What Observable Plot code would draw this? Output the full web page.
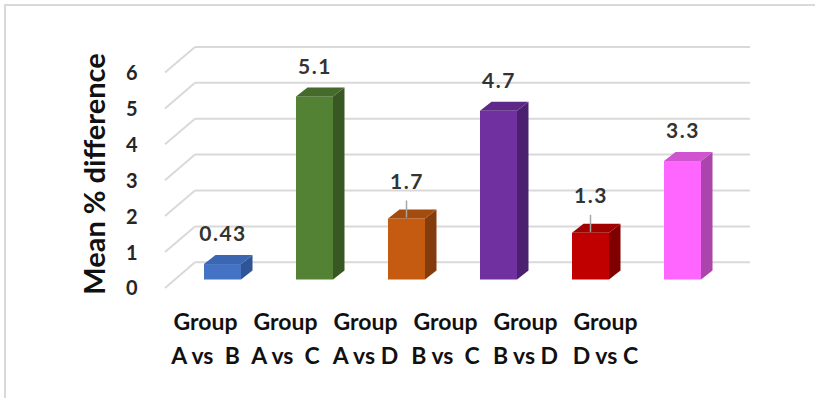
<!DOCTYPE html>
<html>
<head>
<meta charset="utf-8">
<script src="https://cdn.jsdelivr.net/npm/d3@7"></script>
<script src="https://cdn.jsdelivr.net/npm/@observablehq/plot@0.6"></script>
<style>
  html, body { margin: 0; padding: 0; background: #fff; }
  #chart { position: relative; width: 815px; height: 398px; overflow: hidden; background: #fff; }
  #chart .border { position: absolute; left: 4px; top: 4px; width: 900px; height: 500px; border: 2px solid #d9d9d9; }
  #chart svg { position: absolute; left: 0; top: 0; background: transparent; }
  #chart svg text { white-space: pre; }
  #chart svg g[fill="#333333"] { letter-spacing: 1.5px; }
</style>
</head>
<body>
<div id="chart"><div class="border"></div></div>
<script>
// Mean % difference between group pairs
const groups = ["A vs  B", "A vs  C", "A vs D", "B vs  C", "B vs D", "D vs C"];
const meanDiff = [0.43, 5.1, 1.7, 4.7, 1.3, 3.3];
const valueLabels = ["0.43", "5.1", "1.7", "4.7", "1.3", "3.3"];
const yTicks = [0, 1, 2, 3, 4, 5, 6];

// Face colours of each 3D column: front, top, right side
const frontColors = ["#4472c4", "#548235", "#c55a11", "#7030a0", "#c00000", "#ff66ff"];
const topColors   = ["#3b66b2", "#46692c", "#a44b0e", "#5e2888", "#a00000", "#d054d0"];
const sideColors  = ["#2f5597", "#385723", "#843c0c", "#4b2070", "#800000", "#ab44ab"];

// Labels that sit higher and get a leader line
const leaderGroups = new Set(["A vs D", "B vs D"]);

const rows = groups.map((g, i) => ({
  group: g,
  value: meanDiff[i],
  label: valueLabels[i],
  front: frontColors[i],
  top: topColors[i],
  side: sideColors[i],
  leader: leaderGroups.has(g)
}));

// Oblique projection offsets (pixels)
const DEPTH_DX = 11.5, DEPTH_DY = 9;          // column depth
const WALL_DY = 17.2;                         // column plane -> back wall
const FLOOR_DX = 30, FLOOR_DY = 25.6;         // back wall -> front of floor
const WALL_X0 = 195, WALL_X1 = 750;           // back wall extent

// Back wall gridlines plus the slanted lines on the left side wall
function wall(index, {y}) {
  const g = d3.create("svg:g")
    .attr("stroke", "#d9d9d9")
    .attr("stroke-width", 2)
    .attr("fill", "none");
  for (const t of yTicks) {
    const yb = y(t) - WALL_DY;
    g.append("line").attr("x1", WALL_X0).attr("x2", WALL_X1).attr("y1", yb).attr("y2", yb);
    g.append("line").attr("x1", WALL_X0).attr("x2", WALL_X0 - FLOOR_DX).attr("y1", yb).attr("y2", yb + FLOOR_DY);
  }
  return g.node();
}

// Top and right-side faces of the columns
function columnFaces(index, {x, y}) {
  const g = d3.create("svg:g");
  const bw = x.bandwidth();
  const y0 = y(0);
  for (const d of rows) {
    const x0 = x(d.group), x1 = x0 + bw, yt = y(d.value);
    g.append("polygon")
      .attr("points", [[x1, yt], [x1 + DEPTH_DX, yt - DEPTH_DY], [x1 + DEPTH_DX, y0 - DEPTH_DY], [x1, y0]].join(" "))
      .attr("fill", d.side);
    g.append("polygon")
      .attr("points", [[x0, yt], [x0 + DEPTH_DX, yt - DEPTH_DY], [x1 + DEPTH_DX, yt - DEPTH_DY], [x1, yt]].join(" "))
      .attr("fill", d.top);
  }
  return g.node();
}

// Leader lines from raised labels down to their column
function leaders(index, {x, y}) {
  const g = d3.create("svg:g").attr("stroke", "#a6a6a6").attr("stroke-width", 1.5);
  const bw = x.bandwidth();
  for (const d of rows.filter(r => r.leader)) {
    const cx = x(d.group) + bw / 2, yt = y(d.value);
    g.append("line").attr("x1", cx).attr("x2", cx).attr("y1", yt - 18).attr("y2", yt - 1);
  }
  return g.node();
}

const main = Plot.plot({
  width: 815,
  height: 398,
  marginLeft: 147.6,
  marginRight: 58.2,
  marginTop: 64.1,
  marginBottom: 118.5,
  style: {fontFamily: "Lato, 'Open Sans', sans-serif", background: "transparent"},
  x: {type: "band", domain: groups, padding: 0.6, axis: null},
  y: {domain: [0, 6], axis: null},
  color: {type: "identity"},
  marks: [
    wall,
    Plot.barY(rows, {x: "group", y: "value", fill: "front"}),
    columnFaces,
    leaders,
    Plot.text(rows, {filter: d => !d.leader, x: "group", y: "value", text: "label", dy: -30,
      fontSize: 21, fontWeight: "bold", fill: "#333333"}),
    Plot.text(rows, {filter: d => d.leader, x: "group", y: "value", text: "label", dy: -37,
      fontSize: 21, fontWeight: "bold", fill: "#333333"}),
    Plot.text(yTicks, {y: d => d, text: d => String(d), frameAnchor: "left", textAnchor: "end",
      dx: -10.6, dy: 9, fontSize: 20, fontWeight: "bold", fill: "#262626"}),
    Plot.text(["Mean % difference"], {frameAnchor: "left", textAnchor: "middle", rotate: -90, dx: -52, dy: 1.7,
      fontSize: 29, fontWeight: "bold", fill: "#111"})
  ]
});

// Category labels along the front of the floor
const categoryRow = Plot.plot({
  width: 815,
  height: 398,
  marginLeft: 163.9,
  marginRight: 169.9,
  marginTop: 0,
  marginBottom: 0,
  style: {fontFamily: "Lato, 'Open Sans', sans-serif", background: "transparent"},
  x: {type: "band", domain: groups, padding: 0, axis: null},
  marks: [
    Plot.text(groups, {x: d => d, text: d => "Group\n" + d, frameAnchor: "top", lineAnchor: "top",
      dy: 306, lineHeight: 1.45, fontSize: 23, fontWeight: "bold", fill: "#111"})
  ]
});

const chart = document.getElementById("chart");
chart.appendChild(main);
chart.appendChild(categoryRow);
</script>
</body>
</html>
